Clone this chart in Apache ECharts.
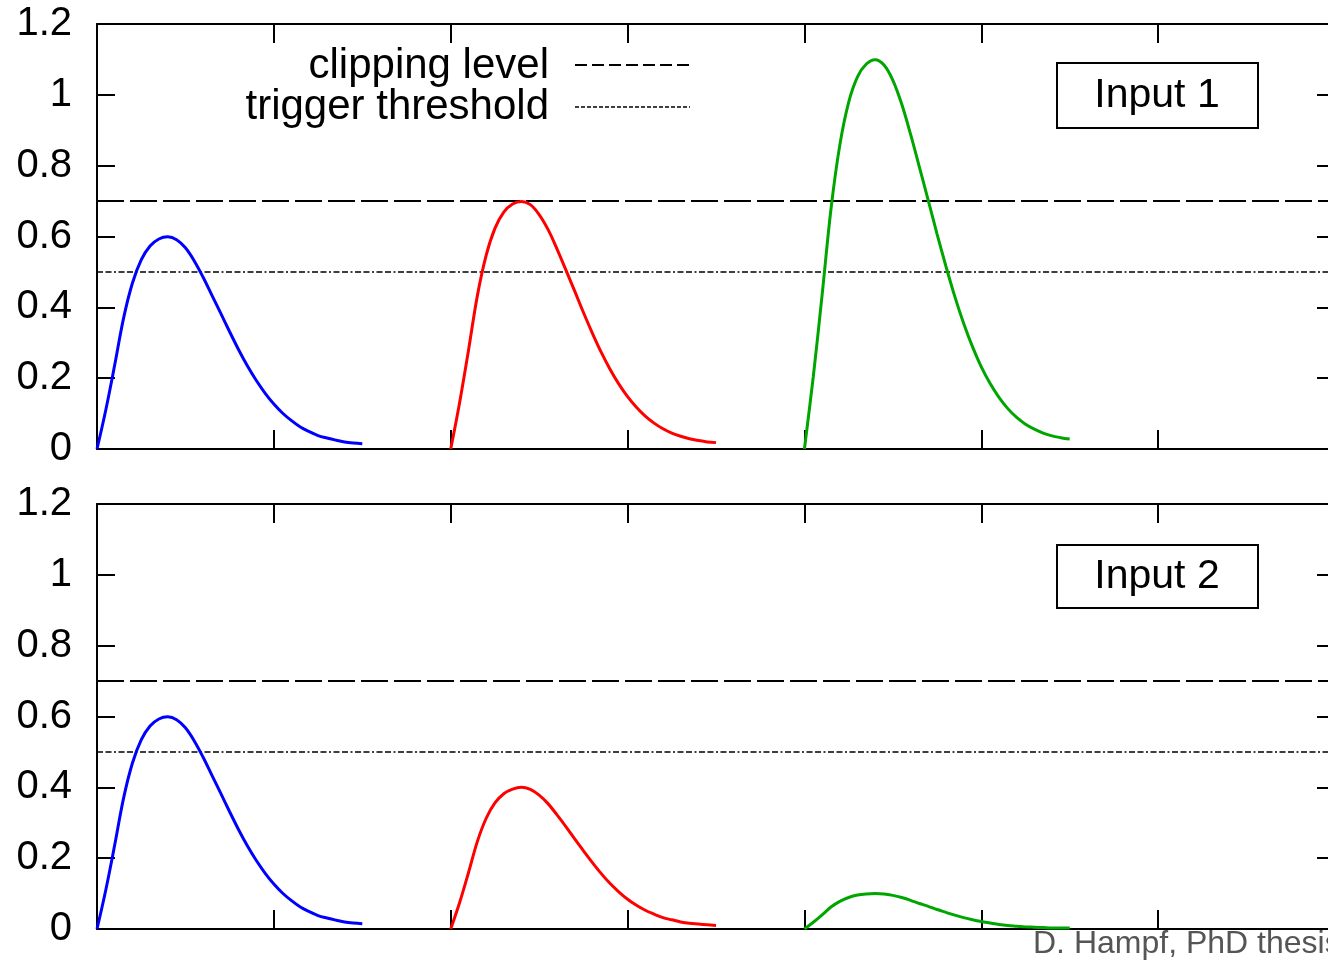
<!DOCTYPE html>
<html>
<head>
<meta charset="utf-8">
<title>clipping level / trigger threshold</title>
<script src="https://cdn.jsdelivr.net/npm/echarts@6/dist/echarts.min.js"></script>
<style>
  html, body { margin: 0; padding: 0; overflow: hidden; background: #fff; }
  #myChart { width: 1345px; height: 963px; }
</style>
</head>
<body>
<div id="myChart"></div>
<script>
// time of each sample inside a pulse (x units, one tick = 1)
const pulseT = [0, 0.05, 0.1, 0.15, 0.2, 0.25, 0.3, 0.35, 0.4, 0.45, 0.5, 0.55, 0.6, 0.65, 0.7, 0.75,
  0.8, 0.85, 0.9, 0.95, 1, 1.05, 1.1, 1.15, 1.2, 1.25, 1.3, 1.35, 1.4, 1.45, 1.5]
// where each pulse starts
const pulseStart = [0, 2, 4]

// Input 1
const in1Blue = [0, 0.111, 0.237, 0.369, 0.468, 0.534, 0.573, 0.593, 0.599, 0.591, 0.568, 0.531, 0.485,
  0.434, 0.383, 0.331, 0.281, 0.235, 0.194, 0.158, 0.127, 0.101, 0.08, 0.062, 0.049, 0.038, 0.031,
  0.025, 0.02, 0.017, 0.015]
const in1Red = [0, 0.13, 0.277, 0.431, 0.546, 0.623, 0.669, 0.692, 0.699, 0.69, 0.662, 0.62, 0.566,
  0.507, 0.447, 0.386, 0.328, 0.274, 0.226, 0.184, 0.148, 0.118, 0.093, 0.073, 0.057, 0.045, 0.036,
  0.029, 0.024, 0.02, 0.018]
const in1Green = [0, 0.204, 0.435, 0.677, 0.858, 0.979, 1.051, 1.087, 1.099, 1.084, 1.041, 0.974, 0.889,
  0.796, 0.702, 0.607, 0.516, 0.431, 0.355, 0.289, 0.232, 0.185, 0.146, 0.114, 0.089, 0.07, 0.056,
  0.045, 0.037, 0.032, 0.028]

// Input 2
const in2Blue = [0, 0.111, 0.237, 0.369, 0.468, 0.534, 0.573, 0.593, 0.599, 0.591, 0.568, 0.531, 0.485,
  0.434, 0.383, 0.331, 0.281, 0.235, 0.194, 0.158, 0.127, 0.101, 0.08, 0.062, 0.049, 0.038, 0.031,
  0.025, 0.02, 0.017, 0.015]
const in2Red = [0, 0.074, 0.158, 0.246, 0.312, 0.356, 0.382, 0.395, 0.4, 0.394, 0.378, 0.354, 0.323,
  0.29, 0.255, 0.221, 0.188, 0.157, 0.129, 0.105, 0.084, 0.067, 0.053, 0.042, 0.032, 0.026, 0.02,
  0.016, 0.014, 0.012, 0.01]
const in2Green = [0, 0.019, 0.04, 0.062, 0.078, 0.089, 0.096, 0.099, 0.1, 0.099, 0.095, 0.089, 0.081,
  0.072, 0.064, 0.055, 0.047, 0.039, 0.032, 0.026, 0.021, 0.017, 0.013, 0.01, 0.008, 0.006, 0.005,
  0.004, 0.003, 0.003, 0.003]

const clipLevel = 0.7
const triggerLevel = 0.5
const xRange = [0, 7]
const yTicks = [0, 0.2, 0.4, 0.6, 0.8, 1, 1.2]
const panelNames = ['Input 1', 'Input 2']

const font = 'Liberation Sans, Arial, Helvetica, sans-serif'
const colors = ['#0000ff', '#ff0000', '#00a600']

function pulse(start, values) {
  return pulseT.map((t, i) => [start + t, values[i]])
}

const myChart = echarts.init(document.getElementById('myChart'))

const grids = [
  { left: 97, top: 24, width: 1238, height: 425 },
  { left: 97, top: 504, width: 1238, height: 425 }
]

const xAxes = []
const yAxes = []
grids.forEach((g, gi) => {
  ['bottom', 'top'].forEach(pos => {
    xAxes.push({
      type: 'value',
      gridIndex: gi,
      position: pos,
      min: xRange[0],
      max: xRange[1],
      interval: 1,
      axisLine: { show: true, onZero: false, lineStyle: { color: '#000', width: 2 } },
      axisTick: { show: true, inside: true, length: 19, lineStyle: { color: '#000', width: 2 } },
      axisLabel: { show: false },
      splitLine: { show: false }
    })
  })
  ;['left', 'right'].forEach(pos => {
    yAxes.push({
      type: 'value',
      gridIndex: gi,
      position: pos,
      min: yTicks[0],
      max: yTicks[yTicks.length - 1],
      interval: 0.2,
      axisLine: { show: true, onZero: false, lineStyle: { color: '#000', width: 2 } },
      axisTick: { show: true, inside: true, length: 18, lineStyle: { color: '#000', width: 2 } },
      axisLabel: {
        show: pos === 'left',
        margin: 25,
        color: '#000',
        fontSize: 40,
        fontFamily: font
      },
      splitLine: { show: false }
    })
  })
})

const panels = [
  [in1Blue, in1Red, in1Green],
  [in2Blue, in2Red, in2Green]
]

const series = []
panels.forEach((pulses, gi) => {
  // horizontal levels
  series.push({
    name: 'clipping level',
    type: 'line',
    xAxisIndex: gi * 2,
    yAxisIndex: gi * 2,
    showSymbol: false,
    data: [[xRange[0], clipLevel], [xRange[1], clipLevel]],
    lineStyle: { color: '#000', width: 2, type: [27, 6] },
    silent: true
  })
  series.push({
    name: 'trigger threshold',
    type: 'line',
    xAxisIndex: gi * 2,
    yAxisIndex: gi * 2,
    showSymbol: false,
    data: [[xRange[0], triggerLevel], [xRange[1], triggerLevel]],
    lineStyle: { color: '#000', width: 1.5, type: [6, 2.5, 6, 2.5, 2, 2.5] },
    silent: true
  })
  pulses.forEach((vals, pi) => {
    series.push({
      type: 'line',
      xAxisIndex: gi * 2,
      yAxisIndex: gi * 2,
      showSymbol: false,
      smooth: 0.35,
      data: pulse(pulseStart[pi], vals),
      lineStyle: { color: colors[pi], width: 3 },
      z: 3
    })
  })
})

const textStyle = { fontFamily: font, fill: '#000' }

const option = {
  animation: false,
  backgroundColor: '#fff',
  grid: grids,
  xAxis: xAxes,
  yAxis: yAxes,
  series: series,
  graphic: [
    // legend
    { type: 'text', x: 549, y: 66, style: Object.assign({ text: 'clipping level', fontSize: 42, align: 'right', verticalAlign: 'middle' }, textStyle) },
    { type: 'text', x: 549, y: 107, style: Object.assign({ text: 'trigger threshold', fontSize: 42, align: 'right', verticalAlign: 'middle' }, textStyle) },
    { type: 'line', shape: { x1: 575, y1: 65, x2: 693, y2: 65 }, style: { stroke: '#000', lineWidth: 2, lineDash: [12, 5] } },
    { type: 'line', shape: { x1: 575, y1: 107, x2: 690, y2: 107 }, style: { stroke: '#000', lineWidth: 1.5, lineDash: [4, 2] } },
    // panel labels
    { type: 'rect', shape: { x: 1057, y: 63, width: 201, height: 65 }, style: { fill: '#fff', stroke: '#000', lineWidth: 2 }, z: 10 },
    { type: 'text', x: 1157, y: 96, z: 11, style: Object.assign({ text: panelNames[0], fontSize: 41, align: 'center', verticalAlign: 'middle' }, textStyle) },
    { type: 'rect', shape: { x: 1057, y: 545, width: 201, height: 63 }, style: { fill: '#fff', stroke: '#000', lineWidth: 2 }, z: 10 },
    { type: 'text', x: 1157, y: 577, z: 11, style: Object.assign({ text: panelNames[1], fontSize: 41, align: 'center', verticalAlign: 'middle' }, textStyle) },
    // watermark
    { type: 'text', x: 1033, y: 944, z: 12, style: { text: 'D. Hampf, PhD thesis', fontFamily: font, fontSize: 32, fill: '#555', align: 'left', verticalAlign: 'middle' } }
  ]
}
myChart.setOption(option)
</script>
</body>
</html>
